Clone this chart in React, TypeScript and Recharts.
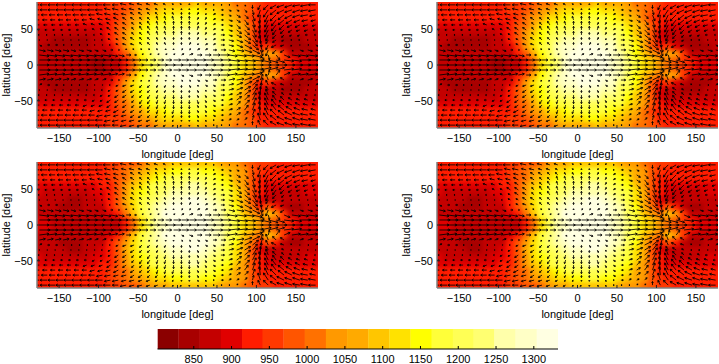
import React from 'react';
import { ScatterChart, Scatter, XAxis, YAxis } from 'recharts';

// grid axes
const LONS = [-175, -165, -155, -145, -135, -125, -115, -105, -95, -85, -75, -65, -55, -45, -35, -25, -15, -5, 5, 15, 25, 35, 45, 55, 65, 75, 85, 95, 105, 115, 125, 135, 145, 155, 165, 175];
const TEMP_LATS = [85, 75, 65, 55, 45, 35, 25, 15, 5, -5, -15, -25, -35, -45, -55, -65, -75, -85];
const WIND_LATS = [84, 77, 70, 63, 56, 49, 42, 35, 28, 21, 14, 7, 0, -7, -14, -21, -28, -35, -42, -49, -56, -63, -70, -77, -84];
const LON_TICKS = [-150, -100, -50, 0, 50, 100, 150];
const LAT_TICKS = [-50, 0, 50];
const BAR_TICKS = [850, 900, 950, 1000, 1050, 1100, 1150, 1200, 1250, 1300];
const BAR_EDGES = [802, 830, 858, 886, 914, 942, 969, 997, 1025, 1053, 1081, 1109, 1137, 1165, 1193, 1221, 1248, 1276, 1304, 1332];
const BAR_COLORS = ['#8b0000', '#a80000', '#c40000', '#e00000', '#ff1c00', '#ff3800', '#ff5500', '#ff7100', '#ff9900', '#ffaa00', '#ffc600', '#ffe200', '#ffff00', '#ffff39', '#ffff55', '#ffff71', '#ffffaa', '#ffffc6', '#ffffe2'];
const BAR_MIDS = [816, 844, 872, 900, 928, 955, 983, 1011, 1039, 1067, 1095, 1123, 1151, 1179, 1207, 1234, 1262, 1290, 1318];

// temperature [K], rows follow TEMP_LATS, columns follow LONS
const TEMP_TOP = [
  [925, 925, 925, 925, 925, 925, 925, 930, 935, 945, 955, 965, 980, 1000, 1020, 1040, 1055, 1065, 1075, 1080, 1085, 1080, 1070, 1055, 1040, 1020, 1000, 975, 955, 940, 930, 925, 925, 925, 925, 925],
  [925, 925, 925, 925, 925, 925, 925, 925, 935, 945, 960, 985, 1015, 1045, 1075, 1100, 1115, 1125, 1135, 1140, 1140, 1135, 1125, 1105, 1080, 1050, 1015, 975, 940, 925, 925, 925, 925, 925, 925, 925],
  [920, 920, 920, 920, 920, 915, 915, 920, 925, 940, 965, 1000, 1040, 1080, 1110, 1135, 1155, 1165, 1175, 1180, 1180, 1175, 1160, 1135, 1105, 1065, 1020, 965, 925, 920, 920, 920, 920, 920, 920, 920],
  [905, 905, 905, 905, 900, 895, 895, 900, 910, 930, 970, 1020, 1070, 1110, 1145, 1170, 1190, 1205, 1215, 1220, 1220, 1210, 1190, 1165, 1130, 1085, 1030, 970, 920, 905, 905, 905, 905, 905, 905, 905],
  [885, 880, 875, 870, 865, 865, 870, 880, 895, 925, 975, 1035, 1095, 1140, 1175, 1205, 1225, 1240, 1250, 1255, 1255, 1245, 1225, 1195, 1155, 1105, 1045, 975, 905, 885, 880, 880, 880, 880, 885, 885],
  [865, 860, 850, 845, 845, 840, 845, 860, 880, 920, 975, 1045, 1110, 1160, 1200, 1230, 1255, 1275, 1285, 1290, 1290, 1275, 1250, 1220, 1175, 1120, 1055, 975, 900, 880, 860, 850, 850, 855, 860, 865],
  [860, 850, 850, 850, 845, 845, 850, 860, 875, 910, 965, 1040, 1115, 1175, 1220, 1255, 1280, 1300, 1310, 1315, 1315, 1300, 1280, 1245, 1200, 1145, 1075, 995, 930, 965, 910, 860, 850, 850, 855, 860],
  [870, 865, 860, 860, 860, 860, 860, 860, 865, 880, 925, 995, 1080, 1160, 1220, 1265, 1295, 1310, 1320, 1325, 1320, 1310, 1290, 1255, 1210, 1160, 1100, 1040, 1010, 1080, 1040, 950, 880, 870, 870, 870],
  [885, 880, 875, 870, 865, 865, 860, 855, 855, 860, 875, 930, 1010, 1110, 1190, 1245, 1285, 1305, 1315, 1320, 1320, 1310, 1295, 1265, 1225, 1180, 1130, 1085, 1045, 1010, 975, 945, 920, 905, 895, 890],
  [885, 880, 875, 870, 865, 865, 860, 855, 855, 860, 875, 930, 1010, 1110, 1190, 1245, 1285, 1305, 1315, 1320, 1320, 1310, 1295, 1265, 1225, 1180, 1130, 1085, 1045, 1010, 975, 945, 920, 905, 895, 890],
  [870, 865, 860, 860, 860, 860, 860, 860, 865, 880, 925, 995, 1080, 1160, 1220, 1265, 1295, 1310, 1320, 1325, 1320, 1310, 1290, 1255, 1210, 1160, 1100, 1040, 1010, 1080, 1040, 950, 880, 870, 870, 870],
  [860, 850, 850, 850, 845, 845, 850, 860, 875, 910, 965, 1040, 1115, 1175, 1220, 1255, 1280, 1300, 1310, 1315, 1315, 1300, 1280, 1245, 1200, 1145, 1075, 995, 930, 965, 910, 860, 850, 850, 855, 860],
  [865, 860, 850, 845, 845, 840, 845, 860, 880, 920, 975, 1045, 1110, 1160, 1200, 1230, 1255, 1275, 1285, 1290, 1290, 1275, 1250, 1220, 1175, 1120, 1055, 975, 900, 880, 860, 850, 850, 855, 860, 865],
  [885, 880, 875, 870, 865, 865, 870, 880, 895, 925, 975, 1035, 1095, 1140, 1175, 1205, 1225, 1240, 1250, 1255, 1255, 1245, 1225, 1195, 1155, 1105, 1045, 975, 905, 885, 880, 880, 880, 880, 885, 885],
  [905, 905, 905, 905, 900, 895, 895, 900, 910, 930, 970, 1020, 1070, 1110, 1145, 1170, 1190, 1205, 1215, 1220, 1220, 1210, 1190, 1165, 1130, 1085, 1030, 970, 920, 905, 905, 905, 905, 905, 905, 905],
  [920, 920, 920, 920, 920, 915, 915, 920, 925, 940, 965, 1000, 1040, 1080, 1110, 1135, 1155, 1165, 1175, 1180, 1180, 1175, 1160, 1135, 1105, 1065, 1020, 965, 925, 920, 920, 920, 920, 920, 920, 920],
  [925, 925, 925, 925, 925, 925, 925, 925, 935, 945, 960, 985, 1015, 1045, 1075, 1100, 1115, 1125, 1135, 1140, 1140, 1135, 1125, 1105, 1080, 1050, 1015, 975, 940, 925, 925, 925, 925, 925, 925, 925],
  [925, 925, 925, 925, 925, 925, 925, 930, 935, 945, 955, 965, 980, 1000, 1020, 1040, 1055, 1065, 1075, 1080, 1085, 1080, 1070, 1055, 1040, 1020, 1000, 975, 955, 940, 930, 925, 925, 925, 925, 925],
];

const TEMP_BOTTOM = [
  [935, 935, 935, 935, 935, 935, 935, 935, 940, 950, 960, 975, 995, 1015, 1035, 1055, 1070, 1085, 1095, 1100, 1100, 1095, 1085, 1070, 1050, 1030, 1005, 980, 955, 945, 935, 930, 930, 930, 930, 935],
  [930, 930, 930, 930, 930, 930, 930, 930, 940, 950, 970, 1000, 1035, 1065, 1095, 1120, 1135, 1150, 1160, 1165, 1165, 1160, 1145, 1125, 1100, 1065, 1025, 980, 945, 930, 930, 930, 930, 930, 930, 930],
  [925, 925, 925, 925, 925, 920, 920, 925, 930, 945, 975, 1015, 1060, 1100, 1130, 1155, 1180, 1195, 1205, 1210, 1210, 1205, 1185, 1160, 1125, 1080, 1030, 975, 930, 925, 925, 925, 925, 925, 925, 925],
  [910, 910, 910, 905, 905, 900, 900, 905, 920, 940, 980, 1035, 1090, 1135, 1170, 1195, 1220, 1235, 1245, 1250, 1250, 1240, 1220, 1190, 1150, 1100, 1040, 975, 925, 910, 910, 905, 905, 905, 910, 910],
  [890, 885, 880, 875, 875, 875, 880, 890, 905, 935, 985, 1045, 1110, 1155, 1190, 1220, 1245, 1260, 1270, 1275, 1275, 1265, 1245, 1215, 1175, 1120, 1055, 980, 915, 890, 885, 885, 885, 885, 890, 890],
  [875, 870, 860, 860, 855, 855, 860, 870, 890, 925, 985, 1055, 1125, 1175, 1215, 1245, 1270, 1290, 1300, 1305, 1305, 1290, 1270, 1235, 1190, 1130, 1060, 980, 905, 885, 865, 860, 860, 860, 865, 875],
  [870, 860, 860, 855, 855, 855, 860, 870, 885, 920, 975, 1050, 1125, 1190, 1235, 1270, 1295, 1310, 1320, 1325, 1325, 1310, 1290, 1255, 1210, 1150, 1080, 1000, 935, 970, 915, 865, 855, 855, 860, 870],
  [880, 875, 870, 870, 870, 870, 870, 870, 875, 890, 935, 1005, 1090, 1170, 1230, 1275, 1305, 1320, 1325, 1330, 1325, 1315, 1295, 1260, 1215, 1165, 1105, 1045, 1015, 1085, 1045, 955, 885, 875, 875, 880],
  [895, 890, 885, 880, 875, 875, 870, 865, 865, 870, 885, 940, 1020, 1120, 1200, 1255, 1295, 1315, 1325, 1330, 1325, 1315, 1300, 1270, 1230, 1185, 1135, 1090, 1050, 1015, 980, 950, 925, 910, 900, 895],
  [895, 890, 885, 880, 875, 875, 870, 865, 865, 870, 885, 940, 1020, 1120, 1200, 1255, 1295, 1315, 1325, 1330, 1325, 1315, 1300, 1270, 1230, 1185, 1135, 1090, 1050, 1015, 980, 950, 925, 910, 900, 895],
  [880, 875, 870, 870, 870, 870, 870, 870, 875, 890, 935, 1005, 1090, 1170, 1230, 1275, 1305, 1320, 1325, 1330, 1325, 1315, 1295, 1260, 1215, 1165, 1105, 1045, 1015, 1085, 1045, 955, 885, 875, 875, 880],
  [870, 860, 860, 855, 855, 855, 860, 870, 885, 920, 975, 1050, 1125, 1190, 1235, 1270, 1295, 1310, 1320, 1325, 1325, 1310, 1290, 1255, 1210, 1150, 1080, 1000, 935, 970, 915, 865, 855, 855, 860, 870],
  [875, 870, 860, 860, 855, 855, 860, 870, 890, 925, 985, 1055, 1125, 1175, 1215, 1245, 1270, 1290, 1300, 1305, 1305, 1290, 1270, 1235, 1190, 1130, 1060, 980, 905, 885, 865, 860, 860, 860, 865, 875],
  [890, 885, 880, 875, 875, 875, 880, 890, 905, 935, 985, 1045, 1110, 1155, 1190, 1220, 1245, 1260, 1270, 1275, 1275, 1265, 1245, 1215, 1175, 1120, 1055, 980, 915, 890, 885, 885, 885, 885, 890, 890],
  [910, 910, 910, 905, 905, 900, 900, 905, 920, 940, 980, 1035, 1090, 1135, 1170, 1195, 1220, 1235, 1245, 1250, 1250, 1240, 1220, 1190, 1150, 1100, 1040, 975, 925, 910, 910, 905, 905, 905, 910, 910],
  [925, 925, 925, 925, 925, 920, 920, 925, 930, 945, 975, 1015, 1060, 1100, 1130, 1155, 1180, 1195, 1205, 1210, 1210, 1205, 1185, 1160, 1125, 1080, 1030, 975, 930, 925, 925, 925, 925, 925, 925, 925],
  [930, 930, 930, 930, 930, 930, 930, 930, 940, 950, 970, 1000, 1035, 1065, 1095, 1120, 1135, 1150, 1160, 1165, 1165, 1160, 1145, 1125, 1100, 1065, 1025, 980, 945, 930, 930, 930, 930, 930, 930, 930],
  [935, 935, 935, 935, 935, 935, 935, 935, 940, 950, 960, 975, 995, 1015, 1035, 1055, 1070, 1085, 1095, 1100, 1100, 1095, 1085, 1070, 1050, 1030, 1005, 980, 955, 945, 935, 930, 930, 930, 930, 935],
];

// wind components, rows follow WIND_LATS, columns follow LONS
const WIND_U = [
  [-6, -6, -6, -6, -6, -6, -6, -6, -6, -6, -5, -5, -4, -4, -3, -3, -2, -1, -1, 0, 1, 1, 1, 1, 1, 1, 1, 0, -2, -4, -5, -6, -6, -6, -6, -6],
  [-6, -6, -6, -6, -6, -6, -6, -6, -6, -5, -5, -4, -4, -3, -3, -2, -1, -1, 0, 0, 1, 1, 1, 2, 2, 2, 2, 1, -2, -4, -5, -6, -6, -6, -6, -6],
  [-5, -5, -5, -5, -5, -5, -5, -5, -5, -5, -4, -4, -3, -3, -2, -2, -1, -1, 0, 0, 1, 1, 2, 2, 2, 3, 3, 2, -1, -3, -5, -5, -6, -6, -6, -5],
  [-4, -4, -4, -4, -4, -4, -4, -4, -4, -4, -4, -3, -3, -2, -2, -1, -1, -1, 0, 0, 1, 1, 2, 2, 3, 3, 3, 2, -1, -3, -4, -5, -5, -5, -5, -4],
  [-3, -3, -3, -3, -3, -3, -3, -3, -3, -3, -3, -3, -2, -2, -2, -1, -1, 0, 0, 0, 1, 1, 2, 2, 3, 3, 4, 3, -1, -3, -4, -4, -4, -4, -4, -3],
  [-2, -2, -2, -2, -2, -2, -2, -2, -2, -3, -3, -3, -2, -2, -2, -1, -1, 0, 0, 0, 1, 1, 2, 2, 3, 4, 4, 3, -1, -3, -3, -3, -3, -3, -3, -2],
  [-1, -1, -1, -1, -1, -1, -1, -1, -2, -2, -3, -3, -2, -2, -2, -1, -1, 0, 0, 0, 1, 1, 2, 3, 3, 4, 5, 4, 0, -2, -3, -2, -2, -2, -2, -1],
  [0, 0, 0, 0, 0, 0, 0, 0, -1, -2, -2, -3, -3, -2, -2, -1, -1, 0, 0, 0, 1, 1, 2, 3, 4, 5, 5, 4, 1, -2, -3, -2, -1, -1, 0, 0],
  [2, 2, 2, 1, 1, 1, 1, 0, 0, -1, -2, -3, -3, -2, -2, -1, -1, 0, 0, 1, 1, 2, 2, 3, 4, 5, 6, 5, 2, -2, -4, -3, -1, 0, 1, 2],
  [5, 5, 5, 5, 4, 4, 4, 3, 3, 2, 1, 0, -1, -1, -1, -1, 0, 0, 1, 1, 2, 2, 3, 4, 5, 6, 6, 6, 2, -2, -3, -3, 1, 3, 4, 5],
  [8, 8, 8, 8, 8, 8, 8, 7, 7, 6, 5, 4, 2, 1, 1, 1, 1, 1, 2, 3, 4, 5, 6, 7, 7, 8, 8, 8, 3, 1, 3, 5, 7, 7, 8, 8],
  [9, 9, 9, 9, 9, 9, 9, 9, 9, 9, 8, 7, 6, 5, 5, 5, 5, 6, 6, 6, 7, 7, 8, 8, 9, 9, 9, 9, 9, 8, 7, 8, 8, 9, 9, 9],
  [8, 8, 8, 8, 8, 8, 8, 8, 8, 8, 8, 8, 8, 9, 8, 8, 8, 8, 8, 8, 9, 9, 9, 9, 9, 9, 9, 9, 9, 9, 9, 9, 9, 9, 9, 8],
  [9, 9, 9, 9, 9, 9, 9, 9, 9, 9, 8, 7, 6, 5, 5, 5, 5, 6, 6, 6, 7, 7, 8, 8, 9, 9, 9, 9, 9, 8, 7, 8, 8, 9, 9, 9],
  [8, 8, 8, 8, 8, 8, 8, 7, 7, 6, 5, 4, 2, 1, 1, 1, 1, 1, 2, 3, 4, 5, 6, 7, 7, 8, 8, 8, 3, 1, 3, 5, 7, 7, 8, 8],
  [5, 5, 5, 5, 4, 4, 4, 3, 3, 2, 1, 0, -1, -1, -1, -1, 0, 0, 1, 1, 2, 2, 3, 4, 5, 6, 6, 6, 2, -2, -3, -3, 1, 3, 4, 5],
  [2, 2, 2, 1, 1, 1, 1, 0, 0, -1, -2, -3, -3, -2, -2, -1, -1, 0, 0, 1, 1, 2, 2, 3, 4, 5, 6, 5, 2, -2, -4, -3, -1, 0, 1, 2],
  [0, 0, 0, 0, 0, 0, 0, 0, -1, -2, -2, -3, -3, -2, -2, -1, -1, 0, 0, 0, 1, 1, 2, 3, 4, 5, 5, 4, 1, -2, -3, -2, -1, -1, 0, 0],
  [-1, -1, -1, -1, -1, -1, -1, -1, -2, -2, -3, -3, -2, -2, -2, -1, -1, 0, 0, 0, 1, 1, 2, 3, 3, 4, 5, 4, 0, -2, -3, -2, -2, -2, -2, -1],
  [-2, -2, -2, -2, -2, -2, -2, -2, -2, -3, -3, -3, -2, -2, -2, -1, -1, 0, 0, 0, 1, 1, 2, 2, 3, 4, 4, 3, -1, -3, -3, -3, -3, -3, -3, -2],
  [-3, -3, -3, -3, -3, -3, -3, -3, -3, -3, -3, -3, -2, -2, -2, -1, -1, 0, 0, 0, 1, 1, 2, 2, 3, 3, 4, 3, -1, -3, -4, -4, -4, -4, -4, -3],
  [-4, -4, -4, -4, -4, -4, -4, -4, -4, -4, -4, -3, -3, -2, -2, -1, -1, -1, 0, 0, 1, 1, 2, 2, 3, 3, 3, 2, -1, -3, -4, -5, -5, -5, -5, -4],
  [-5, -5, -5, -5, -5, -5, -5, -5, -5, -5, -4, -4, -3, -3, -2, -2, -1, -1, 0, 0, 1, 1, 2, 2, 2, 3, 3, 2, -1, -3, -5, -5, -6, -6, -6, -5],
  [-6, -6, -6, -6, -6, -6, -6, -6, -6, -5, -5, -4, -4, -3, -3, -2, -1, -1, 0, 0, 1, 1, 1, 2, 2, 2, 2, 1, -2, -4, -5, -6, -6, -6, -6, -6],
  [-6, -6, -6, -6, -6, -6, -6, -6, -6, -6, -5, -5, -4, -4, -3, -3, -2, -1, -1, 0, 1, 1, 1, 1, 1, 1, 1, 0, -2, -4, -5, -6, -6, -6, -6, -6],
];

const WIND_V = [
  [0, 0, 0, 0, 0, 0, 0, 0, 0, 0, 0, 1, 1, 1, 1, 1, 1, 1, 1, 1, 1, 1, 0, 0, 0, -1, -1, -3, -4, -4, -3, -2, -2, -1, -1, 0],
  [0, 0, 0, 0, 0, 0, 0, 0, 0, 1, 1, 1, 1, 1, 1, 1, 1, 1, 1, 1, 1, 1, 0, 0, -1, -1, -2, -4, -6, -6, -4, -3, -2, -2, -1, -1],
  [0, 0, 0, 0, 0, 0, 0, 0, 1, 1, 1, 1, 2, 2, 2, 2, 2, 2, 2, 2, 2, 1, 1, 0, -1, -2, -3, -5, -7, -6, -5, -4, -3, -2, -1, -1],
  [0, 0, 0, 0, 0, 0, 0, 1, 1, 1, 2, 2, 2, 2, 2, 3, 3, 3, 3, 3, 2, 2, 1, 0, -1, -2, -4, -6, -7, -6, -5, -4, -3, -2, -1, -1],
  [0, 0, 0, 0, 0, 0, 1, 1, 1, 2, 2, 2, 2, 2, 3, 3, 3, 3, 3, 3, 2, 2, 1, 0, -1, -3, -4, -6, -7, -6, -5, -4, -2, -2, -1, -1],
  [0, 0, 0, 0, 0, 0, 0, 1, 1, 2, 2, 2, 2, 3, 3, 3, 3, 3, 3, 3, 3, 2, 1, 0, -1, -3, -4, -6, -7, -6, -4, -3, -2, -1, -1, 0],
  [0, 0, 0, 0, 0, 0, 0, 0, 1, 1, 2, 2, 2, 2, 3, 3, 3, 3, 3, 2, 2, 2, 1, 0, -1, -2, -4, -6, -7, -5, -3, -2, -1, -1, 0, 0],
  [0, 0, 0, 0, 0, 0, 0, 0, 0, 1, 1, 2, 2, 2, 2, 2, 2, 2, 2, 2, 2, 1, 1, 0, -1, -2, -3, -5, -6, -3, -2, -1, 0, 0, 0, 0],
  [-1, 0, 0, 0, 0, 0, 0, 0, 0, 0, 1, 1, 1, 2, 2, 2, 2, 2, 2, 2, 1, 1, 1, 0, -1, -2, -3, -4, -6, -4, -2, -1, -1, 0, 0, -1],
  [-1, -1, -1, -1, -1, -1, -1, -1, -1, 0, 0, 1, 1, 1, 1, 1, 1, 1, 1, 1, 1, 1, 0, 0, -1, -1, -2, -3, -5, -5, -3, -2, -1, -1, -1, -1],
  [-1, -1, -1, -1, -1, -1, -1, -1, -1, -1, -1, 0, 0, 1, 1, 1, 1, 1, 1, 1, 0, 0, 0, 0, -1, -1, -1, -2, -4, -4, -4, -2, -1, -1, -1, -1],
  [0, 0, 0, 0, 0, 0, 0, 0, 0, 0, 0, 0, 0, 0, 0, 0, 0, 0, 0, 0, 0, 0, 0, 0, -1, -1, -1, -1, -2, -2, -2, -1, -1, 0, 0, 0],
  [0, 0, 0, 0, 0, 0, 0, 0, 0, 0, 0, 0, 0, 0, 0, 0, 0, 0, 0, 0, 0, 0, 0, 0, 0, 0, 0, 0, 0, 0, 0, 0, 0, 0, 0, 0],
  [0, 0, 0, 0, 0, 0, 0, 0, 0, 0, 0, 0, 0, 0, 0, 0, 0, 0, 0, 0, 0, 0, 0, 0, 1, 1, 1, 1, 2, 2, 2, 1, 1, 0, 0, 0],
  [1, 1, 1, 1, 1, 1, 1, 1, 1, 1, 1, 0, 0, -1, -1, -1, -1, -1, -1, -1, 0, 0, 0, 0, 1, 1, 1, 2, 4, 4, 4, 2, 1, 1, 1, 1],
  [1, 1, 1, 1, 1, 1, 1, 1, 1, 0, 0, -1, -1, -1, -1, -1, -1, -1, -1, -1, -1, -1, 0, 0, 1, 1, 2, 3, 5, 5, 3, 2, 1, 1, 1, 1],
  [1, 0, 0, 0, 0, 0, 0, 0, 0, 0, -1, -1, -1, -2, -2, -2, -2, -2, -2, -2, -1, -1, -1, 0, 1, 2, 3, 4, 6, 4, 2, 1, 1, 0, 0, 1],
  [0, 0, 0, 0, 0, 0, 0, 0, 0, -1, -1, -2, -2, -2, -2, -2, -2, -2, -2, -2, -2, -1, -1, 0, 1, 2, 3, 5, 6, 3, 2, 1, 0, 0, 0, 0],
  [0, 0, 0, 0, 0, 0, 0, 0, -1, -1, -2, -2, -2, -2, -3, -3, -3, -3, -3, -2, -2, -2, -1, 0, 1, 2, 4, 6, 7, 5, 3, 2, 1, 1, 0, 0],
  [0, 0, 0, 0, 0, 0, 0, -1, -1, -2, -2, -2, -2, -3, -3, -3, -3, -3, -3, -3, -3, -2, -1, 0, 1, 3, 4, 6, 7, 6, 4, 3, 2, 1, 1, 0],
  [0, 0, 0, 0, 0, 0, -1, -1, -1, -2, -2, -2, -2, -2, -3, -3, -3, -3, -3, -3, -2, -2, -1, 0, 1, 3, 4, 6, 7, 6, 5, 4, 2, 2, 1, 1],
  [0, 0, 0, 0, 0, 0, 0, -1, -1, -1, -2, -2, -2, -2, -2, -3, -3, -3, -3, -3, -2, -2, -1, 0, 1, 2, 4, 6, 7, 6, 5, 4, 3, 2, 1, 1],
  [0, 0, 0, 0, 0, 0, 0, 0, -1, -1, -1, -1, -2, -2, -2, -2, -2, -2, -2, -2, -2, -1, -1, 0, 1, 2, 3, 5, 7, 6, 5, 4, 3, 2, 1, 1],
  [0, 0, 0, 0, 0, 0, 0, 0, 0, -1, -1, -1, -1, -1, -1, -1, -1, -1, -1, -1, -1, -1, 0, 0, 1, 1, 2, 4, 6, 6, 4, 3, 2, 2, 1, 1],
  [0, 0, 0, 0, 0, 0, 0, 0, 0, 0, 0, -1, -1, -1, -1, -1, -1, -1, -1, -1, -1, -1, 0, 0, 0, 1, 1, 3, 4, 4, 3, 2, 2, 1, 1, 0],
];

const bandColor = (temp: number) => {
  let i = BAR_EDGES.findIndex((edge) => temp < edge) - 1;
  if (i < 0) i = temp < BAR_EDGES[0] ? 0 : BAR_COLORS.length - 1;
  return BAR_COLORS[i];
};

const heatPoints = (grid: number[][]) =>
  TEMP_LATS.flatMap((lat, r) => LONS.map((lon, c) => ({ lon, lat, temp: grid[r][c] })));

const WIND_POINTS = WIND_LATS.flatMap((lat, r) =>
  LONS.map((lon, c) => ({ lon, lat, u: WIND_U[r][c], v: WIND_V[r][c] })),
);

const BAR_POINTS = BAR_MIDS.map((temp, i) => ({ temp, y: 0.5, color: BAR_COLORS[i] }));

// the axes-only charts need one point to lay out their axes
const AXIS_POINT = [{ lon: 0, lat: 0, temp: 1000, y: 0.5 }];
const NoMark = () => null;

const HeatCell = (props: any) => {
  const { cx, cy, payload } = props;
  // edge cells run on past the frame so the blur does not fade at the border
  const left = payload.lon === LONS[0] ? 12 : 4.5;
  const right = payload.lon === LONS[LONS.length - 1] ? 12 : 4.5;
  const top = payload.lat === TEMP_LATS[0] ? 12 : 4;
  const bottom = payload.lat === TEMP_LATS[TEMP_LATS.length - 1] ? 12 : 4;
  return <rect x={cx - left} y={cy - top} width={left + right} height={top + bottom} fill={bandColor(payload.temp)} />;
};

const WIND_SCALE = 1.2;

const WindArrow = (props: any) => {
  const { cx, cy, payload } = props;
  const u = payload.u * WIND_SCALE;
  const v = payload.v * WIND_SCALE;
  const x2 = cx + u;
  const y2 = cy - v;
  const len = Math.hypot(u, v);
  if (len === 0) return <circle cx={cx} cy={cy} r={0.7} fill="#000" />;
  const ux = u / len;
  const uy = -v / len;
  const head = Math.min(2, 0.8 + len * 0.2);
  const d = `M${x2 - ux * head - uy * head * 0.6} ${y2 - uy * head + ux * head * 0.6}L${x2} ${y2}L${x2 - ux * head + uy * head * 0.6} ${y2 - uy * head - ux * head * 0.6}`;
  return (
    <g fill="none" stroke="#000" strokeWidth={0.85}>
      <line x1={cx} y1={cy} x2={x2} y2={y2} />
      <path d={d} />
    </g>
  );
};

const BarBand = (props: any) => {
  const { cx, payload } = props;
  return <rect x={cx - 10.7} y={props.cy - 10} width={21.4} height={20} fill={payload.color} />;
};

const FRAME = { stroke: '#808080', strokeWidth: 1.5 };
const TICK_TEXT = { fontSize: 11, fill: '#000', fontFamily: 'Liberation Sans' };
const formatTick = (v: number) => String(v).replace('-', '\u2212');
const LON_DOMAIN = [-178, 178];
const LAT_DOMAIN = [-88, 88];
const BAR_DOMAIN = [BAR_EDGES[0], BAR_EDGES[BAR_EDGES.length - 1]];
const LAYER: React.CSSProperties = { position: 'absolute', left: 0, top: 0 };

const Panel = ({ left, top, grid }: { left: number; top: number; grid: number[][] }) => (
  <div style={{ position: 'absolute', left, top }}>
    <div style={LAYER}>
      <ScatterChart width={320} height={160} margin={{ top: 2, right: 2, bottom: 32, left: 37 }}>
        <XAxis hide type="number" dataKey="lon" domain={LON_DOMAIN} allowDataOverflow />
        <YAxis hide type="number" dataKey="lat" domain={LAT_DOMAIN} allowDataOverflow />
        <Scatter className="heat" data={heatPoints(grid)} shape={HeatCell} isAnimationActive={false} />
        <Scatter data={WIND_POINTS} shape={WindArrow} isAnimationActive={false} />
      </ScatterChart>
    </div>
    {/* frame and ticks sit in a second chart so they stay above the colours */}
    <div style={LAYER}>
      <ScatterChart width={320} height={160} margin={{ top: 2, right: 2, bottom: 0, left: 0 }}>
        <XAxis
          type="number"
          dataKey="lon"
          domain={LON_DOMAIN}
          ticks={LON_TICKS}
          height={32}
          tickFormatter={formatTick}
          tick={TICK_TEXT}
          tickSize={-3}
          tickMargin={9}
          axisLine={FRAME}
          tickLine={{ stroke: '#222' }}
          interval={0}
          label={{ value: 'longitude [deg]', position: 'insideBottom', offset: 2, style: TICK_TEXT }}
        />
        <XAxis xAxisId="top" orientation="top" type="number" domain={LON_DOMAIN} ticks={LON_TICKS} height={0} tick={false} tickSize={-3} axisLine={FRAME} tickLine={{ stroke: '#222' }} />
        <YAxis
          type="number"
          dataKey="lat"
          domain={LAT_DOMAIN}
          ticks={LAT_TICKS}
          width={37}
          tickFormatter={formatTick}
          tick={TICK_TEXT}
          tickSize={-3}
          tickMargin={7}
          axisLine={FRAME}
          tickLine={{ stroke: '#222' }}
          interval={0}
          label={{ value: 'latitude [deg]', angle: -90, position: 'insideLeft', offset: 6, style: { ...TICK_TEXT, textAnchor: 'middle' } }}
        />
        <YAxis yAxisId="right" orientation="right" type="number" domain={LAT_DOMAIN} ticks={LAT_TICKS} width={0} tick={false} tickSize={-3} axisLine={FRAME} tickLine={{ stroke: '#222' }} />
        <Scatter data={AXIS_POINT} shape={NoMark} isAnimationActive={false} />
      </ScatterChart>
    </div>
  </div>
);

const ColorBar = () => (
  <div style={{ position: 'absolute', left: 130, top: 325 }}>
    <div style={LAYER}>
      <ScatterChart width={450} height={39} margin={{ top: 4, right: 22, bottom: 15, left: 27.5 }}>
        <XAxis hide type="number" dataKey="temp" domain={BAR_DOMAIN} allowDataOverflow />
        <YAxis hide type="number" dataKey="y" domain={[0, 1]} />
        <Scatter data={BAR_POINTS} shape={BarBand} isAnimationActive={false} />
      </ScatterChart>
    </div>
    <div style={LAYER}>
      <ScatterChart width={450} height={39} margin={{ top: 4, right: 22, bottom: 0, left: 27.5 }}>
        <XAxis
          type="number"
          dataKey="temp"
          domain={BAR_DOMAIN}
          ticks={BAR_TICKS}
          height={15}
          interval={0}
          tick={TICK_TEXT}
          tickSize={-3}
          tickMargin={9}
          axisLine={{ stroke: '#000' }}
          tickLine={{ stroke: '#000' }}
        />
        <XAxis xAxisId="top" orientation="top" type="number" domain={BAR_DOMAIN} ticks={BAR_TICKS} height={0} tick={false} tickSize={-3} axisLine={{ stroke: '#000' }} tickLine={{ stroke: '#000' }} />
        <YAxis type="number" dataKey="y" domain={[0, 1]} width={0} tick={false} axisLine={{ stroke: '#000' }} tickLine={false} />
        <YAxis yAxisId="right" orientation="right" type="number" domain={[0, 1]} width={0} tick={false} axisLine={{ stroke: '#000' }} tickLine={false} />
        <Scatter data={AXIS_POINT} shape={NoMark} isAnimationActive={false} />
      </ScatterChart>
    </div>
  </div>
);

export default function App() {
  return (
    <div style={{ position: 'fixed', left: 0, top: 0, width: 719, height: 364, background: '#fff', overflow: 'hidden' }}>
      <style>{'.heat { filter: blur(2px); } .recharts-cartesian-axis-tick-value, .recharts-cartesian-axis-tick-value tspan { fill: #000; }'}</style>
      <Panel left={0} top={0} grid={TEMP_TOP} />
      <Panel left={400} top={0} grid={TEMP_TOP} />
      <Panel left={0} top={160} grid={TEMP_BOTTOM} />
      <Panel left={400} top={160} grid={TEMP_BOTTOM} />
      <ColorBar />
    </div>
  );
}
